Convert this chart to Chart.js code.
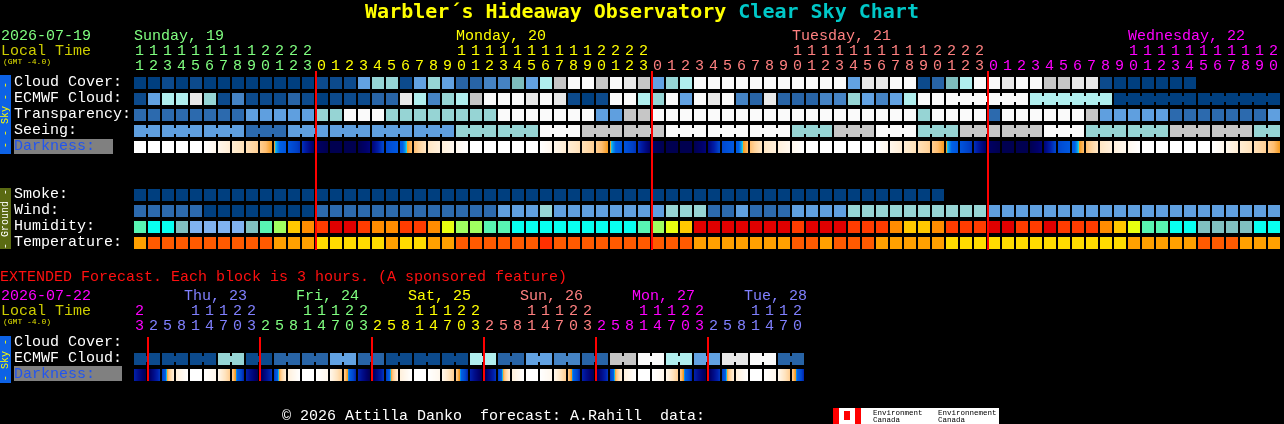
<!DOCTYPE html>
<html><head><meta charset="utf-8"><title>Warbler´s Hideaway Observatory Clear Sky Chart</title>
<script src="https://cdn.jsdelivr.net/npm/chart.js@4.4.1/dist/chart.umd.min.js"></script>
<style>
html,body{margin:0;padding:0;background:#000;overflow:hidden;}
#wrap{position:relative;width:1284px;height:424px;background:#000;}
#chart{position:absolute;left:0;top:0;}
#overlay{position:absolute;left:0;top:0;width:1284px;height:424px;pointer-events:none;}
.t{position:absolute;white-space:pre;}
</style></head><body>
<div id="wrap"><canvas id="chart" width="1284" height="424"></canvas><div id="overlay"></div></div>
<script>
// ================= DATA =================
// Hourly section: first column is Sunday 11:00 local time
const hourTicks = [11,12,13,14,15,16,17,18,19,20,21,22,23,
  0,1,2,3,4,5,6,7,8,9,10,11,12,13,14,15,16,17,18,19,20,21,22,23,
  0,1,2,3,4,5,6,7,8,9,10,11,12,13,14,15,16,17,18,19,20,21,22,23,
  0,1,2,3,4,5,6,7,8,9,10,11,12,13,14,15,16,17,18,19,20];
const dayLabels = ['Sunday, 19','Monday, 20','Tuesday, 21','Wednesday, 22'];
const dayColors = ['#80FF80','#FFFF00','#FF8080','#FF00FF'];
const dayStartCols = [0,13,37,61];
const dayLabelCols = [0,23,47,71];
const midnightCols = [13,37,61];

// cloud cover in % (null = no forecast)
const cloudCover = [0,0,10,0,10,0,0,0,0,0,0,0,0,10,10,10,40,60,60,10,40,
  60,40,20,20,30,30,50,40,70,80,100,100,80,100,90,80,40,60,70,100,100,100,100,100,100,100,100,100,100,100,40,
  90,90,100,100,10,20,50,70,100,100,90,100,100,80,80,90,90,10,0,0,0,0,0,0,
  null,null,null,null,null,null];
const ecmwfCloud = [10,40,70,70,90,60,10,30,10,10,10,20,10,0,10,10,10,20,20,90,70,
  30,60,70,80,100,100,100,90,100,90,10,0,10,100,100,70,60,100,40,100,90,100,30,20,90,20,20,20,30,30,60,
  40,30,40,70,100,100,
  100,100,100,100,100,100,70,70,70,70,70,70,0,0,0,0,0,0,0,0,0,0,0,0];
const ecmwfLinkedBlocks = [[58,63],[64,69],[70,75],[76,81]];
// transparency: 0 transparent .. 4 poor, 5 too cloudy
const transparency = [1,1,1,1,1,1,1,1,2,2,2,2,2,3,3,5,5,5,3,3,3,
  3,3,3,3,3,5,5,5,5,5,5,5,2,2,4,4,5,5,5,5,5,5,5,5,5,5,5,5,5,5,5,
  5,5,5,5,3,5,5,5,5,1,5,5,5,5,5,5,4,2,2,2,2,2,1,1,1,1,1,1,1,2];
// seeing (3-hour blocks): 0 excellent .. 4 bad, 5 too cloudy
const seeingBlockStart = [0,2,5,8,11,14,17,20,23,26,29,32,35,38,41,44,47,50,53,56,59,62,65,68,71,74,77,80];
const seeingBlockValue = [2,2,2,1,2,2,2,2,3,3,5,4,4,5,5,5,3,4,5,3,4,4,5,3,3,4,4,3];
// darkness index at each hour mark (0 = daylight, 10 = darkest)
const darknessLevels = [0,0,0,0,0,0,0.8,1.8,2.8,3.8,5.05,6.4,7.6,
  9.6,10,10,10,9.2,7.0,6.1,4.4,2.4,1.5,0.7,
  0,0,0,0,0,0,0.8,1.8,2.8,3.8,5.05,6.4,7.6,
  9.6,10,10,10,9.2,7.0,6.1,4.4,2.4,1.5,0.7,
  0,0,0,0,0,0,0.8,1.8,2.8,3.8,5.05,6.4,7.6,
  9.6,10,10,10,9.2,7.0,6.1,4.4,2.4,1.5,0.7,
  0,0,0,0,0,0,0.8,1.8,2.8,3.8,5.05];
// smoke (µg/m³)
const smoke = [0,0,0,0,0,0,0,0,0,0, 0,0,0,0,0,0,0,0,0,0, 0,0,0,0,0,0,0,0,0,0,
  0,0,0,0,0,0,0,0,0,0, 0,0,0,0,0,0,0,0,0,0, 0,0,0,0,0,0,0,0];
// wind: 0 (0-5 mph) .. 3 (17-28 mph)
const wind = [1,1,1,1,1, 0,0,0,0,0,0,0,0, 1,1,1,1,1,1,1,1,1,1,1,1,1,
  2,2,2,3,2,2,2,2,2,2,2,2, 3,3,3,1,1,2,1,1,1,2,2,2,2,
  3,3,3,3,3,3,3,3,3,3, 2,2,2,2,2,2,2,2,2,2,2,2,2,2,2,2,2,2,2,2,2];
// relative humidity %
const humidity = [57,52,52,47,42,42,42,42,47,57,62,72,77,
  82,90,90,82,77,77,82,82,77,67,62,62,57,57,52,52,52,52,52,52,52,52,52,
  57,62,67,72,90,90,90,90,90,90,90,82,90,90,90,82,82,82,77,72,72,77,82,82,82,90,90,82,82,90,82,82,82,77,72,67,57,57,52,52,47,47,47,47,52,52];
// temperature °C
const temperature = [23,27,27,27,27,27,27,27,27,27,23,23,23,19,19,19,19,19,23,19,19,23,23,
  27,27,27,27,27,27,31,27,27,27,27,27,27,27,27,27,27,23,23,23,23,23,23,23,27,27,23,27,27,27,
  23,23,23,23,23,19,19,19,19,19,19,19,19,19,19,19,19,19,23,23,23,23,23,27,27,27,23,23,23];

// Extended section: 3-hour blocks, first block Wednesday 23:00
const extHourTicks = [23, 2,5,8,11,14,17,20,23, 2,5,8,11,14,17,20,23, 2,5,8,11,14,17,20,23,
  2,5,8,11,14,17,20,23, 2,5,8,11,14,17,20,23, 2,5,8,11,14,17,20];
const extDayLabels = ['Thu, 23','Fri, 24','Sat, 25','Sun, 26','Mon, 27','Tue, 28'];
const extDayColors = ['#FF00FF','#8080FF','#80FF80','#FFFF00','#FF8080','#FF00FF','#8080FF'];
const extDayStartBlocks = [0,1,9,17,25,33,41];
const extDayLabelBlocks = [4,12,20,28,36,44];
const extMidnightBlocks = [1,9,17,25,33,41];
const extEcmwfCloud = [10,10,10,10,10,10,60,60,10,10,20,20,20,20,40,40,20,20,10,10,10,10,10,10,
  70,70,20,20,40,40,30,30,20,20,80,80,100,100,70,70,40,40,90,90,100,100,20,20];
const extDarknessLevels = [8.0,10,7.5,1.5,0,0,0.8,3.9, 8.0,10,7.5,1.5,0,0,0.8,3.9,
  8.0,10,7.5,1.5,0,0,0.8,3.9, 8.0,10,7.5,1.5,0,0,0.8,3.9,
  8.0,10,7.5,1.5,0,0,0.8,3.9, 8.0,10,7.5,1.5,0,0,0.8,3.9, 8.0];

// ================= PALETTES =================
const cloudPalette = {0:'#003F7F',10:'#0C4A8C',20:'#2864A6',30:'#4583C4',40:'#62A2E2',50:'#7DBDBD',
  60:'#96D5D5',70:'#B0EEEE',80:'#C5C5C5',90:'#E8E8E8',100:'#FAFAFA'};
const levelPalette = ['#003F7F','#2C6AAE','#5F9FDF','#96D4D4','#C6C6C6','#FAFAFA'];
const windPalette = ['#003F7F','#2C6AAE','#5F9FDF','#96D4D4'];
const smokeColor = v => '#003F7F';
function humidityColor(v){
  if (v < 45) return '#80B2F0'; if (v < 50) return '#80C0C0'; if (v < 55) return '#08FFF0';
  if (v < 60) return '#58F5B2'; if (v < 65) return '#A0FF60'; if (v < 70) return '#E8FF10';
  if (v < 75) return '#FFC800'; if (v < 80) return '#FF8C00'; if (v < 85) return '#FF3C00'; return '#E00000';
}
function tempColor(v){ if (v < 21) return '#FFDC00'; if (v < 25) return '#FFA000'; if (v < 29) return '#FF5A00'; return '#FF3000'; }
const darkRamp = [[0,'#FFFFFF'],[0.8,'#FFF7EC'],[1.6,'#FFEFD9'],[2.6,'#FFE4BF'],[3.6,'#FFD39C'],[4.4,'#FFBE70'],
  [4.95,'#F7A02A'],[5.1,'#F59A20'],[5.16,'#22D6DA'],[5.35,'#0A9AEE'],[5.7,'#0060E6'],[6.6,'#0050D8'],
  [7.3,'#0040C6'],[8.0,'#0020AC'],[8.8,'#000C88'],[9.5,'#00006A'],[10,'#000050']];
function hexRgb(h){ return [parseInt(h.substr(1,2),16),parseInt(h.substr(3,2),16),parseInt(h.substr(5,2),16)]; }
function rampColor(l){
  if (l <= darkRamp[0][0]) return darkRamp[0][1];
  for (let i=1;i<darkRamp.length;i++){
    if (l <= darkRamp[i][0]) {
      const [l0,c0] = darkRamp[i-1], [l1,c1] = darkRamp[i];
      const t = (l-l0)/(l1-l0), a = hexRgb(c0), b = hexRgb(c1);
      return `rgb(${Math.round(a[0]+(b[0]-a[0])*t)},${Math.round(a[1]+(b[1]-a[1])*t)},${Math.round(a[2]+(b[2]-a[2])*t)})`;
    }
  }
  return darkRamp[darkRamp.length-1][1];
}

// ================= SCALE GEOMETRY =================
const W = 1284, H = 424;
const COL_PX = 14, FIRST_COL_PX = 134;
const X_MIN = -FIRST_COL_PX/COL_PX, X_MAX = (W-FIRST_COL_PX)/COL_PX;
const ROW_PX = 16, FIRST_ROW_PX = 83;
const Y_MIN = -FIRST_ROW_PX/ROW_PX, Y_MAX = Y_MIN + H/ROW_PX;
const CELL = 12/14;
const ROW = {cloud:0, ecmwf:1, transp:2, seeing:3, dark:4, smoke:7, wind:8, humid:9, temp:10,
  extCloud:16.25, extEcmwf:17.25, extDark:18.25};

function cellDataset(values, row, colorOf){
  const data = [], colors = [];
  values.forEach((v,i)=>{ if (v===null || v===undefined) return; data.push({x:[i,i+CELL], y:row}); colors.push(colorOf(v)); });
  return {data, backgroundColor:colors, barThickness:12, maxBarThickness:12};
}
function linkDataset(groups, row, colorOf){
  const data = [], colors = [];
  groups.forEach(([f,t,v])=>{ if (t>f){ data.push({x:[f,t+CELL], y:row}); colors.push(colorOf(v)); } });
  return {data, backgroundColor:colors, barThickness:6, maxBarThickness:6};
}
// darkness cells: each cell split into 12 one-pixel slices shaded along the darkness ramp
const SLICES = 12;
function darkDataset(levels, row){
  const data = [], colors = [];
  for (let i=0;i<levels.length-1;i++){
    for (let k=0;k<SLICES;k++){
      const t = (k+0.5)/SLICES;
      data.push({x:[i + k*CELL/SLICES, i + (k+1)*CELL/SLICES], y:row});
      colors.push(rampColor(levels[i] + (levels[i+1]-levels[i])*t));
    }
  }
  return {data, backgroundColor:colors, barThickness:12, maxBarThickness:12};
}

// seeing per column from 3h blocks
const seeingCols = [], seeingGroups = [];
seeingBlockStart.forEach((s,k)=>{
  const e = k+1 < seeingBlockStart.length ? seeingBlockStart[k+1]-1 : hourTicks.length-1;
  for (let c=s;c<=e;c++) seeingCols[c] = seeingBlockValue[k];
  seeingGroups.push([s,e,seeingBlockValue[k]]);
});
const ecmwfGroups = ecmwfLinkedBlocks.map(([f,t])=>[f,t,ecmwfCloud[f]]);
const extEcmwfGroups = [];
for (let b=0;b<extEcmwfCloud.length;b+=2) extEcmwfGroups.push([b,b+1,extEcmwfCloud[b]]);

const datasets = [
  cellDataset(cloudCover, ROW.cloud, v=>cloudPalette[v]),
  cellDataset(ecmwfCloud, ROW.ecmwf, v=>cloudPalette[v]),
  cellDataset(transparency, ROW.transp, v=>levelPalette[v]),
  cellDataset(seeingCols, ROW.seeing, v=>levelPalette[v]),
  darkDataset(darknessLevels, ROW.dark),
  cellDataset(smoke, ROW.smoke, smokeColor),
  cellDataset(wind, ROW.wind, v=>windPalette[v]),
  cellDataset(humidity, ROW.humid, humidityColor),
  cellDataset(temperature, ROW.temp, tempColor),
  cellDataset(extEcmwfCloud, ROW.extEcmwf, v=>cloudPalette[v]),
  darkDataset(extDarknessLevels, ROW.extDark),
  linkDataset(seeingGroups, ROW.seeing, v=>levelPalette[v]),
  linkDataset(ecmwfGroups, ROW.ecmwf, v=>cloudPalette[v]),
  linkDataset(extEcmwfGroups, ROW.extEcmwf, v=>cloudPalette[v])
];

const midnightPlugin = {
  id:'midnight',
  afterDatasetsDraw(chart){
    const {ctx, scales:{x,y}} = chart;
    ctx.save(); ctx.strokeStyle = '#FF0000'; ctx.lineWidth = 2;
    const draw = (v, r0, r1) => { const px = x.getPixelForValue(v); ctx.beginPath(); ctx.moveTo(px, y.getPixelForValue(r0)); ctx.lineTo(px, y.getPixelForValue(r1)); ctx.stroke(); };
    midnightCols.forEach(c=>draw(c, -0.75, 10.4375));
    extMidnightBlocks.forEach(b=>draw(b, 15.875, 18.625));
    ctx.restore();
  }
};

const chart = new Chart(document.getElementById('chart'), {
  type:'bar',
  data:{datasets},
  options:{
    indexAxis:'y', responsive:false, animation:false, devicePixelRatio:1, events:[],
    layout:{padding:0},
    plugins:{legend:{display:false}, tooltip:{enabled:false}, title:{display:false}},
    datasets:{bar:{grouped:false, borderWidth:0, borderSkipped:false, inflateAmount:0}},
    elements:{bar:{inflateAmount:0, borderWidth:0}},
    scales:{
      x:{type:'linear', min:X_MIN, max:X_MAX, bounds:'data', display:false, grid:{display:false}},
      y:{type:'linear', min:Y_MIN, max:Y_MAX, reverse:true, bounds:'data', offset:false, display:false, grid:{display:false}}
    }
  },
  plugins:[midnightPlugin]
});

// ================= TEXT OVERLAY =================
const ov = document.getElementById('overlay');
const MONO = "'Liberation Mono','DejaVu Sans Mono',monospace";
function txt(s, left, baseline, color, size, opts){
  size = size || 15; opts = opts || {};
  const el = document.createElement('span');
  el.className = 't'; el.textContent = s;
  const dv = !!opts.dejavu;
  const fam = dv ? "'DejaVu Sans Mono',monospace" : MONO;
  const k = dv ? 0.846 : 0.766;
  el.style.left = left + 'px';
  el.style.top = (baseline - size*k) + 'px';
  el.style.font = `${opts.bold?'bold ':''}${size}px/${size}px ${fam}`;
  el.style.color = color;
  ov.appendChild(el);
  return el;
}
function box(left, top, w, h, bg){
  const d = document.createElement('div'); d.className = 't';
  d.style.cssText += `left:${left}px;top:${top}px;width:${w}px;height:${h}px;background:${bg};`;
  ov.appendChild(d); return d;
}
function vtext(s, cx, cy, color, size){
  const el = document.createElement('span'); el.className = 't'; el.textContent = s;
  el.style.cssText += `left:${cx}px;top:${cy}px;font:${size}px/${size}px ${MONO};color:${color};transform:translate(-50%,-50%) rotate(-90deg);`;
  ov.appendChild(el); return el;
}
const xs = chart.scales.x, ys = chart.scales.y;
const colLeft = c => xs.getPixelForValue(c);
const rowBase = r => ys.getPixelForValue(r) + 3.6;

// title
(function(){
  const d = document.createElement('div'); d.className = 't';
  d.style.cssText += `left:0;top:0.6px;width:${W}px;text-align:center;font:bold 20px/20px 'DejaVu Sans Mono',monospace;`;
  const a = document.createElement('span'); a.style.color = '#FFFF00'; a.textContent = 'Warbler´s Hideaway Observatory ';
  const b = document.createElement('span'); b.style.color = '#00C8C8'; b.textContent = 'Clear Sky Chart';
  d.appendChild(a); d.appendChild(b); ov.appendChild(d);
})();

// top header
txt('2026-07-19', 1, 40, '#80FF80');
txt('Local Time', 1, 55, '#CCCC00');
txt('(GMT -4.0)', 3, 64, '#E0E000', 8);
dayLabels.forEach((l,i)=>txt(l, colLeft(dayLabelCols[i]), 40, dayColors[i]));
function dayIndex(starts, c){ let k=0; starts.forEach((s,i)=>{ if (c>=s) k=i; }); return k; }
hourTicks.forEach((h,c)=>{
  const col = dayColors[dayIndex(dayStartCols,c)];
  const left = colLeft(c) + 1;
  if (h >= 10) txt(String(Math.floor(h/10)), left, 55, col);
  txt(String(h%10), left, 70.5, col);
});

// row labels
[['Cloud Cover:',ROW.cloud],['ECMWF Cloud:',ROW.ecmwf],['Transparency:',ROW.transp],['Seeing:',ROW.seeing],
 ['Smoke:',ROW.smoke],['Wind:',ROW.wind],['Humidity:',ROW.humid],['Temperature:',ROW.temp],
 ['Cloud Cover:',ROW.extCloud],['ECMWF Cloud:',ROW.extEcmwf]].forEach(([l,r])=>txt(l, 14, rowBase(r), '#FFFFFF'));
box(14, ys.getPixelForValue(ROW.dark)-8, 99, 15, '#808080');
txt('Darkness:', 14, rowBase(ROW.dark), '#2255EE');
box(14, ys.getPixelForValue(ROW.extDark)-9, 108, 15, '#808080');
txt('Darkness:', 14, rowBase(ROW.extDark), '#2255EE');

// side tabs
box(0, 75, 11, 79, '#0D62E6'); vtext('- - Sky - -', 5.5, 114.5, '#FFFF00', 10);
box(0, 188, 11, 61, '#5A6A12'); vtext('- Ground -', 5.5, 218.5, '#FFFFFF', 10);
box(0, 336, 11, 47, '#0D62E6'); vtext('- Sky -', 5.5, 359.5, '#FFFF00', 10);

// extended header
txt('EXTENDED Forecast. Each block is 3 hours. (A sponsored feature)', 0, 281, '#FF1010');
txt('2026-07-22', 1, 300, '#FF00FF');
txt('Local Time', 1, 315, '#CCCC00');
txt('(GMT -4.0)', 3, 324.5, '#E0E000', 8);
extDayLabels.forEach((l,i)=>txt(l, colLeft(extDayLabelBlocks[i]) - 6, 300, extDayColors[i+1]));
extHourTicks.forEach((h,b)=>{
  const col = extDayColors[dayIndex(extDayStartBlocks,b)];
  const left = colLeft(b) + 1;
  if (h >= 10) txt(String(Math.floor(h/10)), left, 315, col);
  txt(String(h%10), left, 330, col);
});

// footer
txt('© 2026 Attilla Danko  forecast: A.Rahill  data:', 282, 420.5, '#FFFFFF');
box(833, 408, 6, 16, '#FF0000');
box(839, 408, 16, 16, '#FFFFFF');
box(844, 411, 6, 9, '#FF0000');
box(855, 408, 6, 16, '#FF0000');
box(861, 408, 138, 16, '#FFFFFF');
txt('Environment', 873, 415.5, '#000000', 7.5);
txt('Canada', 873, 422.5, '#000000', 7.5);
txt('Environnement', 938, 415.5, '#000000', 7.5);
txt('Canada', 938, 422.5, '#000000', 7.5);
</script></body></html>
